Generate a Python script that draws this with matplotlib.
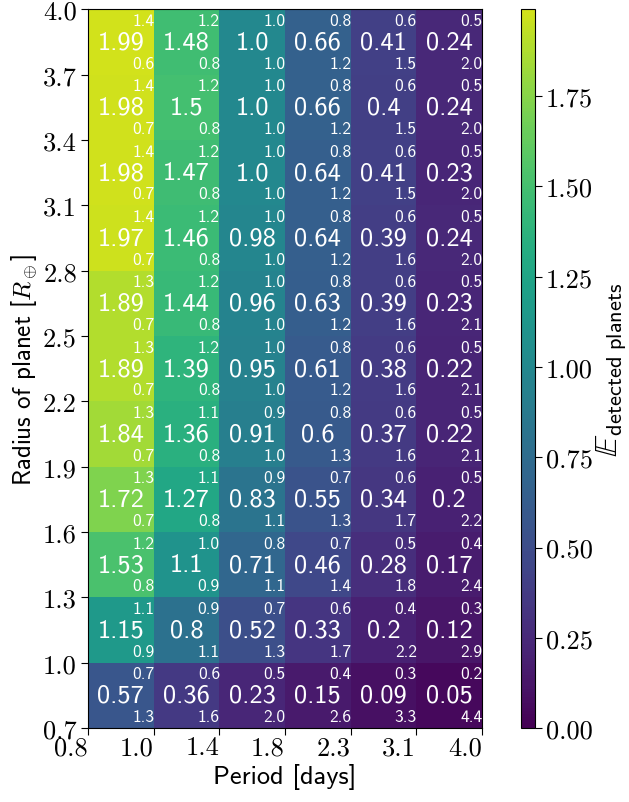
import numpy as np
import matplotlib
matplotlib.use('Agg')
import matplotlib.pyplot as plt
from matplotlib.colors import ListedColormap
from matplotlib.ticker import MultipleLocator, FormatStrFormatter

plt.rcParams['mathtext.fontset'] = 'cm'
plt.rcParams['axes.formatter.use_mathtext'] = True

# bin edges (labels only, cells are drawn on an index grid)
period_edges = ['0.8', '1.0', '1.4', '1.8', '2.3', '3.1', '4.0']
radius_edges = ['0.7', '1.0', '1.3', '1.6', '1.9', '2.2', '2.5', '2.8',
                '3.1', '3.4', '3.7', '4.0']

# expected number of detected planets, rows from smallest radius up
expected = np.array([
    [0.57, 0.36, 0.23, 0.15, 0.09, 0.05],
    [1.15, 0.80, 0.52, 0.33, 0.20, 0.12],
    [1.53, 1.10, 0.71, 0.46, 0.28, 0.17],
    [1.72, 1.27, 0.83, 0.55, 0.34, 0.20],
    [1.84, 1.36, 0.91, 0.60, 0.37, 0.22],
    [1.89, 1.39, 0.95, 0.61, 0.38, 0.22],
    [1.89, 1.44, 0.96, 0.63, 0.39, 0.23],
    [1.97, 1.46, 0.98, 0.64, 0.39, 0.24],
    [1.98, 1.47, 1.00, 0.64, 0.41, 0.23],
    [1.98, 1.50, 1.00, 0.66, 0.40, 0.24],
    [1.99, 1.48, 1.00, 0.66, 0.41, 0.24],
])

upper = np.array([
    [0.7, 0.6, 0.5, 0.4, 0.3, 0.2],
    [1.1, 0.9, 0.7, 0.6, 0.4, 0.3],
    [1.2, 1.0, 0.8, 0.7, 0.5, 0.4],
    [1.3, 1.1, 0.9, 0.7, 0.6, 0.5],
    [1.3, 1.1, 0.9, 0.8, 0.6, 0.5],
    [1.3, 1.2, 1.0, 0.8, 0.6, 0.5],
    [1.3, 1.2, 1.0, 0.8, 0.6, 0.5],
    [1.4, 1.2, 1.0, 0.8, 0.6, 0.5],
    [1.4, 1.2, 1.0, 0.8, 0.6, 0.5],
    [1.4, 1.2, 1.0, 0.8, 0.6, 0.5],
    [1.4, 1.2, 1.0, 0.8, 0.6, 0.5],
])

lower = np.array([
    [1.3, 1.6, 2.0, 2.6, 3.3, 4.4],
    [0.9, 1.1, 1.3, 1.7, 2.2, 2.9],
    [0.8, 0.9, 1.1, 1.4, 1.8, 2.4],
    [0.7, 0.8, 1.1, 1.3, 1.7, 2.2],
    [0.7, 0.8, 1.0, 1.3, 1.6, 2.1],
    [0.7, 0.8, 1.0, 1.2, 1.6, 2.1],
    [0.7, 0.8, 1.0, 1.2, 1.6, 2.1],
    [0.7, 0.8, 1.0, 1.2, 1.6, 2.0],
    [0.7, 0.8, 1.0, 1.2, 1.5, 2.0],
    [0.7, 0.8, 1.0, 1.2, 1.5, 2.0],
    [0.6, 0.8, 1.0, 1.2, 1.5, 2.0],
])


def fmt_main(v):
    # short float repr, keeping "1.0"
    s = f"{v:g}"
    return s if '.' in s else s + '.0'


cmap = ListedColormap(plt.cm.viridis(np.linspace(0, 0.93, 256)))

fig = plt.figure(figsize=(6.29, 8.03), dpi=100)
ax = fig.add_axes([0.140, 0.092, 0.626, 0.895])
cax = fig.add_axes([0.829, 0.092, 0.021, 0.895])

nrow, ncol = expected.shape
mesh = ax.pcolormesh(np.arange(ncol + 1), np.arange(nrow + 1), expected,
                     cmap=cmap, vmin=0, vmax=expected.max())

for i in range(nrow):
    for j in range(ncol):
        ax.text(j + 0.5, i + 0.5, fmt_main(expected[i, j]),
                ha='center', va='center', color='white',
                family='cmss10', fontsize=19)
        ax.text(j + 1.01, i + 0.83, f"{upper[i, j]:.1f}",
                ha='right', va='center', color='white',
                family='cmss10', fontsize=12.5)
        ax.text(j + 1.01, i + 0.18, f"{lower[i, j]:.1f}",
                ha='right', va='center', color='white',
                family='cmss10', fontsize=12.5)

ax.set_xlim(0, ncol)
ax.set_ylim(0, nrow)
ax.tick_params(axis='both', length=5, pad=3)
ax.set_yticks(np.arange(nrow + 1), radius_edges, family='cmr10', fontsize=19)

# x tick labels sit to the left of their tick (right aligned)
ax.set_xticks(np.arange(ncol + 1))
ax.tick_params(axis='x', labelbottom=False)
for k, lab in enumerate(period_edges):
    ax.annotate(lab, xy=(k, 0), xycoords=('data', 'axes fraction'),
                xytext=(0, -5.5), textcoords='offset points',
                ha='right', va='top', family='cmr10', fontsize=19)

ax.set_xlabel('Period [days]', family='cmss10', fontsize=19)
ax.xaxis.set_label_coords(0.5, -0.048)
ax.set_ylabel(r'Radius of planet [$R_\oplus$]', family='cmss10', fontsize=18,
              labelpad=2)

cbar = fig.colorbar(mesh, cax=cax)
cbar.locator = MultipleLocator(0.25)
cbar.formatter = FormatStrFormatter('%.2f')
cbar.update_ticks()
cax.tick_params(length=5, pad=3)
for lab in cax.get_yticklabels():
    lab.set_family('cmr10')
    lab.set_fontsize(19)
cbar.set_label(r'$\mathbb{E}_{\mathsf{detected\ planets}}$', fontsize=23,
               labelpad=1)

fig.savefig('out.png', dpi=100)
